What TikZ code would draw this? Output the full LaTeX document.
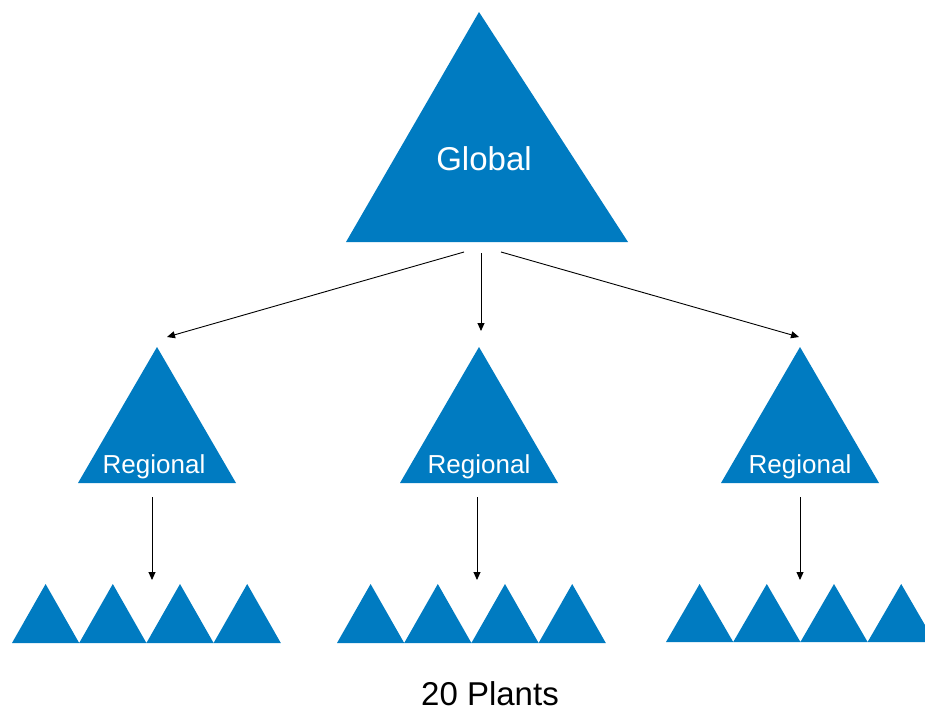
\documentclass[tikz,border=0pt]{standalone}
\usepackage{fontspec}
\setmainfont{Liberation Sans}
\usetikzlibrary{arrows.meta}
\definecolor{plantblue}{RGB}{0,123,193}

\begin{document}
\begin{tikzpicture}[x=1pt,y=-1pt,
  tri/.style={fill=plantblue},
  link/.style={line width=0.9pt,-{Triangle[length=8pt,width=7pt]}},
  lbl/.style={anchor=base,inner sep=0pt,text=white}]
\useasboundingbox (0,0) rectangle (925,711);
% global
\coordinate (G) at (479,12);
\coordinate (GL) at (346,242);
\coordinate (GR) at (628,242);
\fill[tri] (G)--(GL)--(GR)--cycle;
\node[lbl,font=\fontsize{33}{36}\selectfont] (global) at (484,171) {Global};
\coordinate (GA) at (464,252);
\coordinate (GB) at (481,253);
\coordinate (GC) at (501,252);
% left branch
\begin{scope}[xshift=157]
	\coordinate (A) at (0,347);
	\coordinate (AL) at (-79,483);
	\coordinate (AR) at (79,483);
	\coordinate (AT) at (10,337);
	\coordinate (AS) at (-5,497);
	\coordinate (AE) at (-5,580);
	\fill[tri] (A)--(AL)--(AR)--cycle;
	\node[lbl,font=\fontsize{26}{30}\selectfont] (regA) at (-3,473) {Regional};
	\draw[link] (AS)--(AE);
	\begin{scope}[xshift=-145]
		\fill[tri] (0,643)--(33.6,584)--(67.2,643)--(100.8,584)--(134.4,643)
		--(168,584)--(201.6,643)--(235.2,584)--(268.8,643)--cycle;
	\end{scope}
\end{scope}
% middle branch
\begin{scope}[xshift=479]
	\coordinate (B) at (0,347);
	\coordinate (BL) at (-79,483);
	\coordinate (BR) at (79,483);
	\coordinate (BT) at (2,331);
	\coordinate (BS) at (-2,497);
	\coordinate (BE) at (-2,580);
	\fill[tri] (B)--(BL)--(BR)--cycle;
	\node[lbl,font=\fontsize{26}{30}\selectfont] (regB) at (0,473) {Regional};
	\draw[link] (BS)--(BE);
	\begin{scope}[xshift=-142]
		\fill[tri] (0,643)--(33.6,584)--(67.2,643)--(100.8,584)--(134.4,643)
		--(168,584)--(201.6,643)--(235.2,584)--(268.8,643)--cycle;
	\end{scope}
\end{scope}
% right branch
\begin{scope}[xshift=800]
	\coordinate (C) at (0,347);
	\coordinate (CL) at (-79,483);
	\coordinate (CR) at (79,483);
	\coordinate (CT) at (-1,337);
	\coordinate (CS) at (0,497);
	\coordinate (CE) at (0,580);
	\fill[tri] (C)--(CL)--(CR)--cycle;
	\node[lbl,font=\fontsize{26}{30}\selectfont] (regC) at (0,473) {Regional};
	\draw[link] (CS)--(CE);
	\begin{scope}[xshift=-134]
		\fill[tri] (0,642)--(33.6,584)--(67.2,642)--(100.8,584)--(134.4,642)
		--(168,584)--(201.6,642)--(235.2,584)--(268.8,642)--cycle;
	\end{scope}
\end{scope}
\draw[link] (GA)--(AT);
\draw[link] (GB)--(BT);
\draw[link] (GC)--(CT);
\node[lbl,text=black,font=\fontsize{33}{36}\selectfont] (plants) at (490,705) {20 Plants};
\end{tikzpicture}
\end{document}
